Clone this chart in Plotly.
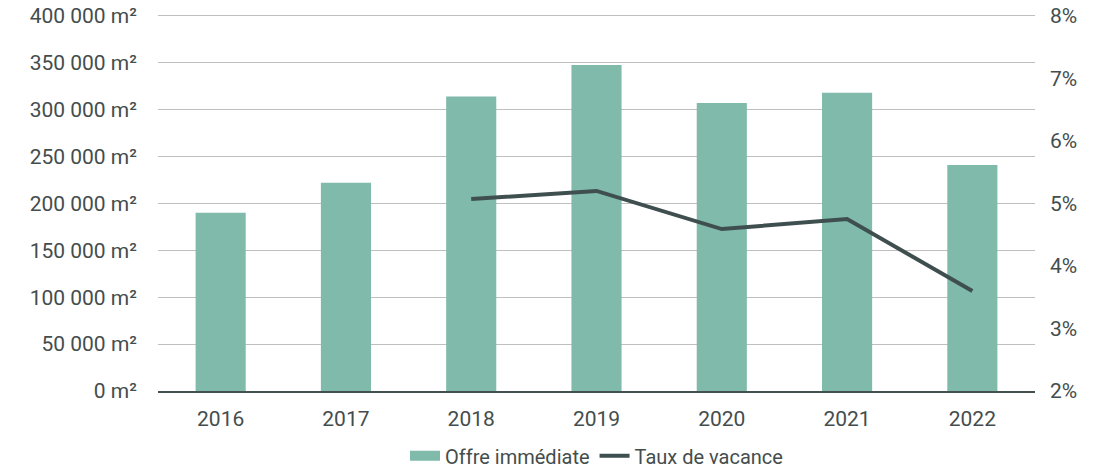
import plotly.graph_objects as go

years = ["2016", "2017", "2018", "2019", "2020", "2021", "2022"]
offre = [190000, 222000, 314000, 347500, 307000, 318000, 241000]
vac_years = ["2018", "2019", "2020", "2021", "2022"]
taux = [5.07, 5.2, 4.59, 4.75, 3.6]

left_ticks = [0, 50000, 100000, 150000, 200000, 250000, 300000, 350000, 400000]
left_labels = [f"{v:,}".replace(",", " ") + " m²" for v in left_ticks]
right_ticks = [2, 3, 4, 5, 6, 7, 8]
right_labels = [f"{v}%" for v in right_ticks]

text_col = "#444d4d"
bar_col = "#7fbaaa"
line_col = "#3f4f4f"
font_fam = "Roboto, Inter, sans-serif"

fig = go.Figure()
fig.add_trace(go.Bar(
    x=years, y=offre, name="Offre immédiate",
    marker_color=bar_col, marker_line_width=0, showlegend=False
))
# legend entry drawn as a wide swatch like the original
fig.add_trace(go.Scatter(
    x=[None], y=[None], name="Offre immédiate", mode="lines",
    line=dict(color=bar_col, width=15)
))
fig.add_trace(go.Scatter(
    x=vac_years, y=taux, name="Taux de vacance", yaxis="y2",
    mode="lines", line=dict(color=line_col, width=4)
))

# ranges a touch above the top tick so its gridline is still drawn
fig.update_layout(
    width=1094, height=472,
    margin=dict(l=158, r=59, t=14, b=81, autoexpand=False),
    plot_bgcolor="white", paper_bgcolor="white",
    font=dict(family=font_fam, size=21, color=text_col),
    bargap=0.6,
    showlegend=True,
    legend=dict(orientation="h", x=0.5, xanchor="center", y=-0.172, yanchor="middle",
                font=dict(size=20, color=text_col), tracegroupgap=0),
    xaxis=dict(showgrid=False, showline=True, linecolor="#44504f", linewidth=2,
               ticks="", ticklabelstandoff=8, automargin=False),
    yaxis=dict(range=[0, 402000], tickvals=left_ticks, ticktext=left_labels,
               showgrid=True, gridcolor="#bfbfbf", gridwidth=1, zeroline=False,
               ticks="", ticklabelstandoff=20, automargin=False),
    yaxis2=dict(range=[2, 8.03], overlaying="y", side="right", tickvals=right_ticks,
                ticktext=right_labels, showgrid=False, zeroline=False, ticks="",
                ticklabelstandoff=14, automargin=False),
)

# drop the default body margin so the figure fills the window exactly
fig.write_html("out.html", config={"displayModeBar": False},
               post_script="document.body.style.margin='0';")
